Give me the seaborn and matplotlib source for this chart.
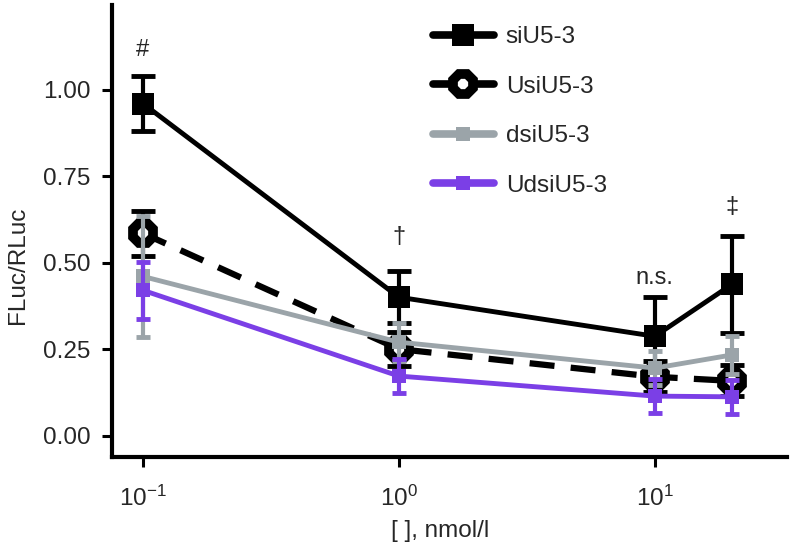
import matplotlib
matplotlib.use("Agg")
import matplotlib.pyplot as plt
import seaborn as sns
import pandas as pd
from matplotlib.lines import Line2D

conc = [0.1, 1, 10, 20]
series = ["siU5-3", "UsiU5-3", "dsiU5-3", "UdsiU5-3"]
si_mean = [0.96, 0.40, 0.287, 0.437]
si_err = [0.08, 0.075, 0.113, 0.14]
usi_mean = [0.585, 0.25, 0.17, 0.158]
usi_err = [0.065, 0.05, 0.045, 0.045]
dsi_mean = [0.46, 0.27, 0.195, 0.233]
dsi_err = [0.175, 0.055, 0.05, 0.055]
udsi_mean = [0.42, 0.172, 0.114, 0.112]
udsi_err = [0.083, 0.05, 0.05, 0.05]
annot_text = ["#", "\u2020", "n.s.", "\u2021"]
annot_y = [1.115, 0.575, 0.455, 0.66]

means = [si_mean, usi_mean, dsi_mean, udsi_mean]
errs = [si_err, usi_err, dsi_err, udsi_err]

sns.set_theme(style="ticks")
plt.rcParams['font.family'] = ['Liberation Sans', 'DejaVu Sans']

rows = []
for s, m, e in zip(series, means, errs):
    for c, mv, ev in zip(conc, m, e):
        rows.append({"conc": c, "val": mv, "err": ev, "series": s})
df = pd.DataFrame(rows)

GRAY = "#9ba4a9"
PURPLE = "#7b3fe6"
colors = {"siU5-3": "#000000", "UsiU5-3": "#000000", "dsiU5-3": GRAY, "UdsiU5-3": PURPLE}
styles = {
    "siU5-3": dict(marker="s", ms=16, mfc="#000000", mec="#000000", mew=0, ls="-", lw=3.5, cap=8.3),
    "UsiU5-3": dict(marker="8", ms=16, mfc="white", mec="#000000", mew=7, ls=(0, (4.0, 2.6)), lw=4.5, cap=8.3),
    "dsiU5-3": dict(marker="s", ms=10, mfc=GRAY, mec=GRAY, mew=0, ls="-", lw=3.5, cap=5),
    "UdsiU5-3": dict(marker="s", ms=10, mfc=PURPLE, mec=PURPLE, mew=0, ls="-", lw=3.5, cap=5),
}

fig = plt.figure(figsize=(7.94, 5.49), dpi=100)
ax = fig.add_axes([0.141, 0.1676, 0.850, 0.8234])

for i, s in enumerate(series):
    sub = df[df.series == s]
    st = styles[s]
    sns.lineplot(data=sub, x="conc", y="val", ax=ax, color=colors[s], lw=st["lw"],
                 linestyle=st["ls"], marker=None, legend=False, zorder=2 + i * 2, errorbar=None)
    ax.errorbar(sub.conc, sub.val, yerr=sub.err, fmt="none", ecolor=colors[s],
                elinewidth=3.0, capsize=st["cap"], capthick=3.5, zorder=3 + i * 2)
    ax.plot(sub.conc, sub.val, ls="none", marker=st["marker"], ms=st["ms"],
            mfc=st["mfc"], mec=st["mec"], mew=st["mew"], zorder=3.5 + i * 2)

ax.set_xscale("log")
ax.set_xlim(0.0757, 32.8)
ax.set_ylim(-0.062, 1.245)
ax.set_yticks([0, 0.25, 0.5, 0.75, 1.0])
ax.set_yticklabels(["0.00", "0.25", "0.50", "0.75", "1.00"])
ax.set_xticks([0.1, 1, 10])
ax.xaxis.set_minor_locator(matplotlib.ticker.NullLocator())
ax.set_xlabel("[ ], nmol/l", fontsize=17.5)
ax.set_ylabel("FLuc/RLuc", fontsize=17.5)
ax.xaxis.set_label_coords(0.486, -0.14)
ax.yaxis.set_label_coords(-0.123, 0.425)
ax.tick_params(axis="both", labelsize=17.5, width=2.2, length=7.5, color="black")
ax.tick_params(axis="y", pad=8)
ax.tick_params(axis="x", pad=13)
for sp in ["top", "right"]:
    ax.spines[sp].set_visible(False)
for sp in ["left", "bottom"]:
    ax.spines[sp].set_linewidth(3)
    ax.spines[sp].set_color("black")

for c, t, y in zip(conc, annot_text, annot_y):
    ax.text(c, y, t, ha="center", va="center", fontsize=17)

handles = []
for s in series:
    st = styles[s]
    handles.append(Line2D([0], [0], color=colors[s], lw=5.5, ls="-",
                          marker=st["marker"], ms=st["ms"], mfc=st["mfc"], mec=st["mec"], mew=st["mew"]))
leg = fig.legend(handles, series, loc="upper left", bbox_to_anchor=(0.533, 0.970), frameon=False,
                 fontsize=17.5, handlelength=2.5, labelspacing=1.13, handletextpad=0.5,
                 borderaxespad=0, borderpad=0.4)

fig.savefig("out.png", dpi=100)
